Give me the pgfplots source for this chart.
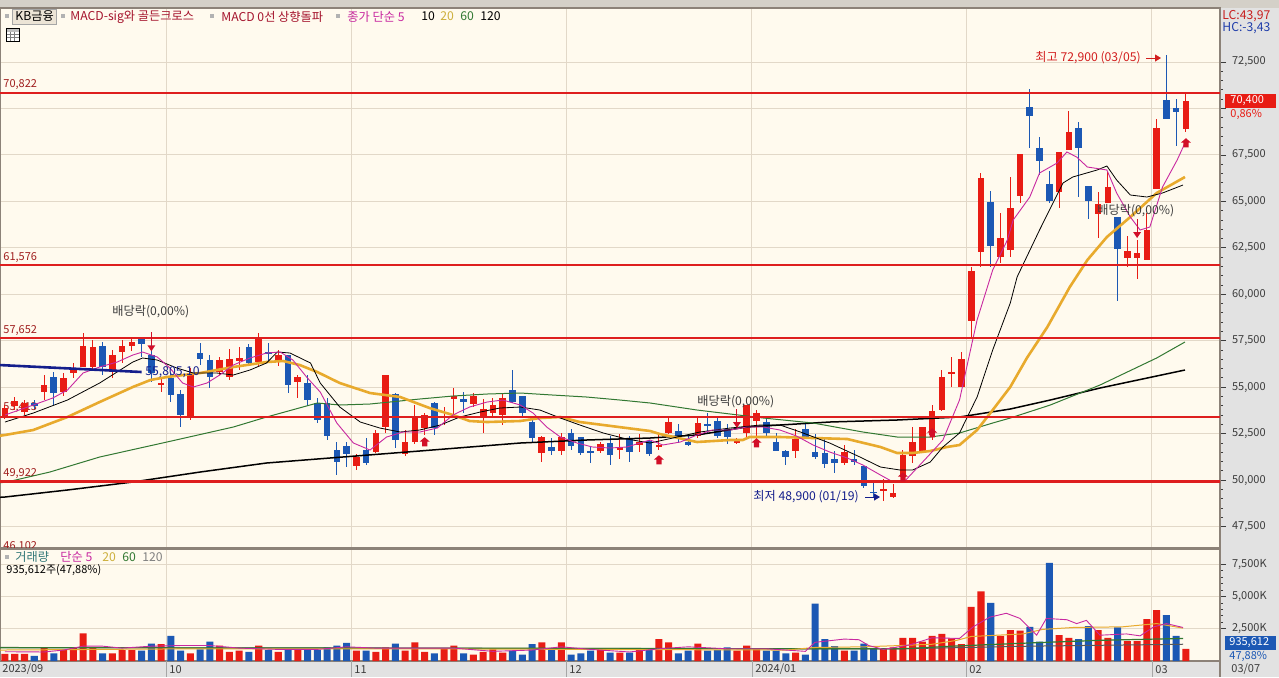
\documentclass[border=0pt]{standalone}
\usepackage{pgfplots}
\pgfplotsset{compat=1.18}
\usepackage{pgfplotstable}
\usepackage{fontspec}
\setmainfont{Noto Sans CJK KR}
\usetikzlibrary{arrows.meta}

\definecolor{bg}{RGB}{255,250,238}
\definecolor{gridc}{RGB}{226,216,200}
\definecolor{panel}{RGB}{226,226,226}
\definecolor{frame}{RGB}{140,130,120}
\definecolor{cred}{RGB}{232,28,20}
\definecolor{cblue}{RGB}{28,88,180}
\definecolor{hline}{RGB}{222,30,30}
\definecolor{lab}{RGB}{160,30,30}
\definecolor{ma5}{RGB}{200,40,160}
\definecolor{ma20}{RGB}{232,170,45}
\definecolor{ma60}{RGB}{50,120,50}
\definecolor{navy}{RGB}{20,30,140}
\definecolor{tick}{RGB}{60,60,60}
\definecolor{sigred}{RGB}{210,15,40}

\newcommand\fs{\fontsize{5.5pt}{6.5pt}\selectfont}
\newcommand\fb{\fontsize{6.1pt}{7pt}\selectfont}

% MACD signal arrow
\pgfdeclareplotmark{sigup}{%
 \pgfpathmoveto{\pgfqpoint{0pt}{2.4pt}}%
 \pgfpathlineto{\pgfqpoint{2.5pt}{0.2pt}}%
 \pgfpathlineto{\pgfqpoint{1.3pt}{0.2pt}}%
 \pgfpathlineto{\pgfqpoint{1.3pt}{-2.2pt}}%
 \pgfpathlineto{\pgfqpoint{-1.3pt}{-2.2pt}}%
 \pgfpathlineto{\pgfqpoint{-1.3pt}{0.2pt}}%
 \pgfpathlineto{\pgfqpoint{-2.5pt}{0.2pt}}%
 \pgfpathclose\pgfusepathqfill}
% ex-dividend arrow, tip at the point
\pgfdeclareplotmark{divdown}{%
 \pgfpathmoveto{\pgfqpoint{0pt}{3pt}}\pgfpathlineto{\pgfqpoint{0pt}{9.5pt}}\pgfusepathqstroke
 \pgfpathmoveto{\pgfqpoint{0pt}{0pt}}\pgfpathlineto{\pgfqpoint{2pt}{3pt}}%
 \pgfpathlineto{\pgfqpoint{-2pt}{3pt}}\pgfpathclose\pgfusepathqfill}

% day index, open, high, low, close, volume (M shares)
\pgfplotstableread{
i o h l c v
0 53400 54040 53280 53880 0.55
1 54000 54450 53750 54250 0.55
2 53660 54300 53500 54150 0.55
4 54740 55650 54300 55115 1.0
6 54740 55760 54500 55500 0.85
7 55760 56300 55500 56030 1.0
8 56085 57915 56085 57215 2.15
9 56085 57540 55980 57160 1.0
11 55815 57000 55500 56730 0.6
12 56890 57540 56300 57215 0.85
13 57215 57700 56950 57430 0.85
16 55115 55500 54740 55220 1.3
19 53390 56030 53230 55760 0.6
22 55815 56620 55650 56460 1.2
23 55550 57050 55380 56520 0.7
24 56410 57160 55920 56570 0.8
26 56350 57920 56140 57650 1.2
28 56460 57000 56140 56730 0.7
30 55280 55650 54420 55550 0.85
36 50760 51400 50540 51240 0.8
38 51510 52700 51460 52530 0.7
39 52860 55650 52530 55650 1.05
41 51400 52690 51300 52050 0.8
42 52050 54040 51940 53390 1.45
43 52800 53610 52430 53500 0.7
45 53390 53930 52970 53450 0.95
46 54360 54960 53500 54520 1.2
48 54090 54690 53930 54520 0.5
49 53390 54360 52540 53830 0.7
50 53610 54420 53450 54040 0.9
51 53500 54690 52970 54410 0.65
55 51460 52370 50970 52320 1.45
57 51560 52530 51350 52320 1.45
61 51560 52050 51460 51940 0.85
63 51620 52480 51140 51780 0.65
65 51890 52480 51510 52050 0.9
67 51780 52480 51620 51890 1.7
68 52530 53390 52480 53120 1.45
71 52370 53340 52260 53070 1.35
75 51990 52260 51940 52210 0.8
76 52530 54040 52320 54040 1.2
77 53180 53770 52320 53610 0.9
81 51560 52750 51180 52210 0.65
86 50920 51890 50810 51510 0.8
90 49410 50060 48900 49520 0.95
91 49080 49790 49030 49300 1.05
92 50160 51620 49840 51350 1.8
93 51300 52860 50920 52050 1.8
94 51560 52860 51460 52860 1.5
95 52430 54040 52160 53720 1.95
96 53770 55920 53720 55550 2.1
97 55760 56620 55010 55820 1.75
98 55010 56890 55010 56520 1.3
99 58560 61470 57650 61250 4.2
100 62270 66530 61470 66260 5.4
102 62000 64370 61680 63030 1.95
103 62380 66310 62000 64640 2.4
104 65290 67550 64910 67550 2.35
108 65500 67660 64640 67660 2.0
109 67760 69860 67760 68730 1.8
112 64320 65510 63030 64860 2.4
113 64910 66650 64910 65770 1.8
115 61950 63140 61470 62330 1.55
116 61950 62920 60820 62220 1.55
117 61840 64370 61840 63460 3.25
118 65660 69430 65660 68950 3.95
121 68900 70890 68730 70400 0.935
}\redtab

\pgfplotstableread{
i o h l c v
3 54150 54300 53800 53980 0.4
5 55550 55800 54040 54690 0.6
10 57215 57430 55650 56085 0.6
14 57600 57700 56620 57320 0.8
15 56730 57540 55280 55760 1.35
17 55500 55760 54200 54580 1.95
18 54630 54850 52860 53500 0.8
20 56840 57380 56190 56520 0.9
21 56460 56730 54960 55550 1.5
25 57160 57320 56140 56300 0.7
27 56870 57400 56410 56820 0.85
29 56730 56730 54690 55115 0.85
31 55220 55650 53990 54310 0.9
32 54150 54420 53070 53230 0.85
33 54150 54420 52150 52380 1.05
34 51620 52050 50270 50970 1.2
35 51830 52050 50700 51400 1.4
37 51620 52260 50810 50920 0.8
40 54630 54690 51720 52150 1.35
44 54150 54200 52430 52800 0.6
47 54360 54750 53610 54200 0.6
52 54850 55920 54150 54200 0.8
53 54520 54520 53450 53610 0.5
54 53120 53390 52050 52260 1.3
56 51780 52260 51350 51560 0.85
58 52530 52750 51620 51830 0.5
59 52320 52320 51350 51460 0.6
60 51560 51780 50920 51460 0.8
62 51990 52370 50810 51350 0.65
64 52210 52370 50970 51510 0.65
66 52100 52150 51300 51410 0.9
69 52640 53000 52000 52370 0.6
70 52050 52480 51830 51890 0.8
72 53010 53610 52530 52960 0.8
73 53180 53450 52260 52370 0.85
74 52750 53000 51940 52320 1.05
78 53120 53390 52320 52530 0.8
79 52050 52530 51560 51560 0.8
80 51560 51620 50810 51240 0.6
82 52750 53010 52210 52320 0.5
83 51510 52480 51140 51240 4.45
84 51460 52210 50650 50870 1.7
85 51130 51560 50380 50920 1.15
87 51130 51620 50810 50970 0.8
88 50760 50760 49570 49680 1.35
89 49360 49840 49100 49310 0.95
101 64970 65560 61470 62600 4.5
105 70080 71050 67870 69590 2.65
106 67870 68460 66420 67170 1.5
107 65930 66630 64910 65020 7.6
110 68950 69270 65240 67870 1.7
111 65830 65830 64050 65020 2.7
114 64160 64160 59640 62440 2.6
119 70450 72900 69430 69430 3.55
120 70000 70500 67980 69800 1.95
}\bluetab

\pgfplotsset{
  panelstyle/.style={
    scale only axis, width=610pt, anchor=north west,
    xmin=-0.51, xmax=124.49,
    axis background/.style={fill=bg},
    axis line style={draw=frame, line width=0.8pt},
    xtick={16.5,35.5,57.5,76.5,98.5,117.5}, xticklabels={},
    xtick style={draw=none},
    xmajorgrids, ymajorgrids, grid style={draw=gridc, line width=0.5pt},
    ytick pos=right, yticklabel pos=right, tick align=outside,
    major tick length=3pt, minor tick length=1.5pt,
    ytick style={draw=tick, line width=0.4pt},
    y tick label style={font=\fs, text=tick, anchor=west, xshift=-0.5pt},
    /pgf/number format/assume math mode=true,
    clip mode=individual},
  wick/.style={draw=none, mark=none, forget plot,
    error bars/.cd, y dir=both, y explicit, error mark=none,
    error bar style={line width=0.5pt, draw=#1}},
  body/.style={draw=none, mark=none, forget plot,
    error bars/.cd, y dir=both, y explicit, error mark=none,
    error bar style={line width=3.3pt, draw=#1}},
}

\begin{document}
\begin{tikzpicture}
\useasboundingbox (0,0) rectangle (639.5pt,-338.5pt);
\fill[panel] (0,0) rectangle (639.5pt,-338.5pt);
\fill[fill={rgb,255:red,212;green,208;blue,200}] (0,0) rectangle (639.5pt,-4pt);

% ---------------- price panel ----------------
\begin{axis}[panelstyle, at={(0pt,-4pt)}, height=270pt,
  ymin=46344, ymax=75406,
  ytick={47500,50000,52500,55000,57500,60000,62500,65000,67500,70000,72500},
  yticklabels={{47,500},{50,000},{52,500},{55,000},{57,500},{60,000},{62,500},{65,000},{67,500},{},{72,500}},
  minor y tick num=4]

\node[anchor=west, text=lab, font=\fs, inner sep=0pt] at (axis cs:-0.2,71262) {70,822};
\node[anchor=west, text=lab, font=\fs, inner sep=0pt] at (axis cs:-0.2,61951) {61,576};
\node[anchor=west, text=lab, font=\fs, inner sep=0pt] at (axis cs:-0.2,58022) {57,652};
\node[anchor=west, text=lab, font=\fs, inner sep=0pt] at (axis cs:-0.2,53878) {53,413};
\node[anchor=west, text=lab, font=\fs, inner sep=0pt] at (axis cs:-0.2,50327) {49,922};
\node[anchor=west, text=lab, font=\fs, inner sep=0pt] at (axis cs:-0.2,46400) {46,102};

% candles
\addplot[wick=cred] table[x=i, y expr={(\thisrow{h}+\thisrow{l})/2}, y error expr={(\thisrow{h}-\thisrow{l})/2}] {\redtab};
\addplot[body=cred] table[x=i, y expr={(\thisrow{o}+\thisrow{c})/2}, y error expr={max(abs(\thisrow{c}-\thisrow{o})/2,28)}] {\redtab};
\addplot[wick=cblue] table[x=i, y expr={(\thisrow{h}+\thisrow{l})/2}, y error expr={(\thisrow{h}-\thisrow{l})/2}] {\bluetab};
\addplot[body=cblue] table[x=i, y expr={(\thisrow{o}+\thisrow{c})/2}, y error expr={max(abs(\thisrow{c}-\thisrow{o})/2,28)}] {\bluetab};

% moving averages
\addplot[black, line width=0.75pt] coordinates {(-0.6,49070) (0,49089) (6.4,49466) (13.1,49896) (20,50434) (26.8,50919) (33.3,51188) (42.5,51565) (52.8,51995) (59.6,52157) (66.1,52264) (70.9,52426) (76,52856) (84.5,53125) (91.4,53233) (97.8,53394) (103,53825) (107.1,54309) (112.2,54955) (120.9,55924)};
\addplot[ma60, line width=0.5pt] coordinates {(-0.6,49850) (0.2,49896) (4.6,50434) (9.7,51241) (16.6,52049) (23.4,52856) (26.8,53394) (32,54148) (34.3,54040) (37.4,54094) (42.5,54363) (45.9,54524) (49.4,54632) (52.8,54686) (56.1,54578) (59.6,54470) (63,54309) (66.1,54148) (70.9,53771) (77.7,53340) (82.8,53071) (87.9,52587) (91.4,52318) (94.8,52318) (97.8,52533) (101.2,53071) (103,53340) (107.1,54040) (112.2,55117) (118,56570) (120.9,57431)};
\addplot[ma20, line width=1.3pt] coordinates {(-0.6,52380) (0,52426) (2.9,52695) (6.4,53394) (9.7,54201) (13.1,55009) (14.9,55386) (16.6,55547) (20,55762) (23.4,56085) (26.8,56354) (28.5,56408) (30.2,56193) (32,55816) (34.3,55224) (37.4,54686) (40.5,54470) (43.5,53878) (45.9,53502) (47.6,53179) (49.4,53125) (52.8,53179) (54.8,53340) (56.9,53394) (58.9,53125) (61.3,52964) (63.7,52802) (66.1,52641) (67.1,52479) (70.9,52049) (74.3,52157) (75.6,52157) (76.3,52318) (79.4,52318) (82.8,52264) (86.3,52210) (89.7,51780) (91.4,51457) (93,51457) (94.8,51565) (96.5,51780) (97.8,51887) (99.6,52695) (101.2,53771) (103,55009) (104.7,56570) (106.8,58238) (109.1,60391) (110.9,61844) (112.9,63082) (115.3,64158) (118,65450) (120.9,66311)};
\addplot[black, line width=0.4pt] coordinates {(0,53125) (2.9,53609) (6.4,54309) (9.7,55224) (13.1,56354) (14.1,56570) (15.6,56462) (17.6,56031) (19.3,55762) (21.7,55762) (23.4,55655) (25.1,55924) (26.8,56301) (27.9,56893) (29.2,56839) (31.3,56301) (32.3,55224) (34.3,53932) (36.4,53125) (38.4,52802) (40.5,52587) (42.5,52695) (44.6,52964) (46.6,53394) (48.7,53663) (50.7,53878) (52.8,53932) (54.8,53771) (56.9,53340) (58.9,52964) (61.3,52533) (63.7,52210) (66.1,51995) (71.2,52587) (74.3,52802) (77.4,52964) (79.4,52964) (81.5,52587) (84.5,51995) (87.6,51241) (89.7,50703) (91.7,50542) (93,50542) (94.8,50972) (96.1,51780) (97.8,52533) (99.6,54470) (101.2,57000) (103,59530) (103.7,60930) (106,63458) (108.4,65988) (109.4,66311) (111.9,66688) (112.9,66903) (113.9,66149) (115.3,65342) (117,65234) (118.6,65450) (120.7,65880)};
\addplot[ma5, line width=0.45pt] coordinates {(0,53502) (2.9,54040) (4.9,54417) (6.4,54847) (8,55762) (9.7,56085) (11.5,56354) (13.1,56731) (14.1,56893) (15.6,56624) (16.9,56031) (18.2,55224) (19.3,55009) (20.7,55224) (22,55655) (23.4,56193) (25.1,56570) (26.8,56839) (28.2,56893) (29.5,56462) (30.9,55547) (32.3,54739) (34,53071) (35.7,51995) (37.4,51618) (39.1,52318) (40.8,52587) (42.5,52587) (44.3,52802) (45.9,53502) (47.6,53932) (49.4,54201) (51,54309) (52.8,54040) (54.1,53609) (55.5,52856) (56.9,52318) (58.6,51995) (60.2,51780) (62,51726) (63.7,51780) (66.1,52157) (67.4,51888) (69.2,52049) (70.9,52426) (72.5,52695) (74.3,52695) (76,52856) (77.7,52856) (79.4,52695) (81.1,52372) (82.8,51888) (84.5,51511) (86.3,51188) (87.9,50811) (89.7,50273) (91,49896) (92.2,49950) (94.5,51241) (96.1,52157) (97.8,54309) (99.6,58615) (101.2,61306) (102.7,62920) (103.3,63997) (105,65234) (106,66526) (107.8,67064) (108.8,67657) (109.8,67388) (110.9,66849) (112.9,66688) (113.9,65450) (115.3,64158) (116.3,63458) (117.3,63620) (118.6,65773) (120.1,67226) (120.9,68140)};
\addplot[navy, line width=1.3pt] coordinates {(-0.6,56193) (14,55816)};

% support / resistance lines
\addplot[hline, line width=1.1pt] coordinates {(-1,70822) (126,70822)};
\addplot[hline, line width=1.1pt] coordinates {(-1,61576) (126,61576)};
\addplot[hline, line width=1.1pt] coordinates {(-1,57652) (126,57652)};
\addplot[hline, line width=1.1pt] coordinates {(-1,53413) (126,53413)};
\addplot[hline, line width=1.1pt] coordinates {(-1,49922) (126,49922)};

% signals
\addplot[only marks, mark=sigup, mark options={fill=sigred, draw=none}] coordinates {(43,52049) (67,51080) (77,51995) (92,50165) (95,52533) (121,68141)};
\addplot[only marks, mark=divdown, mark options={fill=sigred, draw=sigred, line width=0.5pt}] coordinates {(15,56931) (75,52803) (116,63028)};
\end{axis}

% ---------------- volume panel ----------------
\begin{axis}[panelstyle, at={(0pt,-274.5pt)}, height=56pt,
  ymin=0, ymax=8.68,
  ytick={2.5,5,7.5}, yticklabels={{2,500K},{5,000K},{7,500K}},
  minor y tick num=4]
\addplot[ybar, bar width=0.72, bar shift=0pt, fill=cred, draw=none] table[x=i, y=v] {\redtab};
\addplot[ybar, bar width=0.72, bar shift=0pt, fill=cblue, draw=none] table[x=i, y=v] {\bluetab};
\addplot[gray!70!black, line width=0.5pt] coordinates {(-0.6,1.05) (40,1.0) (82,0.95) (92,0.95) (105,1.15) (120.7,1.3)};
\addplot[ma60, line width=0.6pt] coordinates {(-0.6,1.03) (40,1.0) (82,0.95) (92,0.95) (97,1.15) (105,1.4) (112,1.6) (120.7,1.75)};
\addplot[ma20, line width=0.5pt] coordinates {(-0.6,0.85) (20,0.95) (40,0.95) (60,0.9) (80,0.85) (83,1.05) (88,1.1) (91.7,1.2) (95,1.3) (97.5,1.6) (99,1.9) (104.3,2.1) (106.3,2.45) (109.5,2.6) (114.5,2.65) (118,2.9) (120.7,2.55)};
\addplot[ma5, line width=0.45pt] coordinates {(0,0.72) (4,0.7) (6,0.85) (8,1.15) (10,1.15) (12,1.0) (15,1.15) (18,1.2) (21,1.2) (24,1.0) (28,0.9) (32,0.9) (35,1.1) (38,1.0) (42,1.0) (46,1.0) (50,0.75) (54,0.85) (57,1.1) (60,0.9) (64,0.7) (67,0.95) (70,1.1) (74,0.95) (78,0.95) (82,0.75) (83,1.45) (86,1.7) (87.5,1.65) (88.5,1.2) (90,0.9) (92.7,1.25) (95,1.8) (97.8,1.75) (99.2,2.65) (100.9,3.4) (102.6,3.7) (104,3.3) (105.7,2.0) (106.7,3.3) (108.8,3.2) (109.8,2.9) (110.8,3.15) (112.2,2.0) (114.9,2.1) (116.3,1.95) (117.7,2.65) (119,2.9) (120.7,2.6)};
\end{axis}

% ---------------- labels in pixel units ----------------
\begin{scope}[x=0.5pt, y=-0.5pt, every node/.style={font=\fs, inner sep=0pt}]
  % top legend
  \fill[gray!60] (5,14) rectangle (9,18);
  \filldraw[fill={rgb,255:red,236;green,228;blue,214}, draw=gray!70] (12,9) rectangle (56,24);
  \node[anchor=west, font=\fb] at (15,16.5) {KB금융};
  \fill[gray!60] (61,14) rectangle (65,18);
  \node[anchor=west, font=\fb, text={rgb,255:red,165;green,20;blue,45}] at (70,16.5) {MACD-sig와 골든크로스};
  \fill[gray!60] (210,14) rectangle (214,18);
  \node[anchor=west, font=\fb, text={rgb,255:red,165;green,20;blue,45}] at (221,16.5) {MACD 0선 상향돌파};
  \fill[gray!60] (336,14) rectangle (340,18);
  \node[anchor=west, font=\fb, text=ma5] at (347,16.5) {종가 단순 5};
  \node[anchor=west, font=\fb] at (421,16.5) {10};
  \node[anchor=west, font=\fb, text={rgb,255:red,205;green,175;blue,60}] at (440,16.5) {20};
  \node[anchor=west, font=\fb, text=ma60] at (460,16.5) {60};
  \node[anchor=west, font=\fb] at (480,16.5) {120};
  % table icon
  \filldraw[fill=white, draw=black, line width=0.5pt] (6,28) rectangle (19,41);
  \fill[gray!50] (6.5,28.5) rectangle (18.5,31.5);
  \draw[gray, line width=0.3pt] (10.3,31.5) -- (10.3,40.5) (14.6,31.5) -- (14.6,40.5) (6.5,34.5) -- (18.5,34.5) (6.5,37.5) -- (18.5,37.5);
  % right top
  \node[anchor=west, font=\fb, text={rgb,255:red,200;green,30;blue,30}] at (1222,16) {LC:43,97};
  \node[anchor=west, font=\fb, text={rgb,255:red,30;green,60;blue,170}] at (1222,28) {HC:-3,43};
  % current price box
  \fill[cred] (1225,94) rectangle (1276,108);
  \node[anchor=west, text=white] at (1230,101) {70,400};
  \node[anchor=west, text=cred] at (1230,114) {0,86\%};
  % volume box
  \fill[cblue] (1225,636) rectangle (1276,650);
  \node[anchor=west, text=white] at (1229,643) {935,612};
  \node[anchor=west, text=cblue] at (1229,656) {47,88\%};
  % annotations
  \node[anchor=west, font=\fb, text=tick] at (112,312) {배당락(0,00\%)};
  \node[anchor=west, font=\fb, text=tick] at (697,402) {배당락(0,00\%)};
  \node[anchor=west, font=\fb, text=tick] at (1097,211) {배당락(0,00\%)};
  \node[anchor=west, font=\fb, text=navy] at (145,372) {55,805,10};
  \node[anchor=west, font=\fb, text={rgb,255:red,210;green,30;blue,30}] at (1035,58) {최고 72,900 (03/05)};
  \draw[-{Triangle[length=3pt,width=3.5pt]}, draw={rgb,255:red,210;green,30;blue,30}, fill={rgb,255:red,210;green,30;blue,30}, line width=0.5pt] (1146,58) -- (1161,58);
  \node[anchor=west, font=\fb, text=navy] at (753,497) {최저 48,900 (01/19)};
  \draw[-{Triangle[length=3pt,width=3.5pt]}, draw=navy, fill=navy, line width=0.5pt] (865,497) -- (880,497);
  % volume legend
  \fill[gray!60] (5,555) rectangle (9,559);
  \node[anchor=west, font=\fb, text={rgb,255:red,50;green,120;blue,120}] at (15,557) {거래량};
  \node[anchor=west, font=\fb, text=ma5] at (60,557) {단순 5};
  \node[anchor=west, font=\fb, text={rgb,255:red,205;green,175;blue,60}] at (102,557) {20};
  \node[anchor=west, font=\fb, text=ma60] at (122,557) {60};
  \node[anchor=west, font=\fb, text=gray] at (142,557) {120};
  \node[anchor=west] at (6,570) {935,612주(47,88\%)};
  % date strip
  \foreach \xx in {166,351,566,752,966,1152} {\draw[gray!70, line width=0.5pt] (\xx,661) -- (\xx,677);}
  \draw[frame, line width=0.8pt] (1220,661) -- (1220,677);
  \node[anchor=west, text=tick] at (2,669.5) {2023/09};
  \node[anchor=west, text=tick] at (169,669.5) {10};
  \node[anchor=west, text=tick] at (354,669.5) {11};
  \node[anchor=west, text=tick] at (569,669.5) {12};
  \node[anchor=west, text=tick] at (755,669.5) {2024/01};
  \node[anchor=west, text=tick] at (969,669.5) {02};
  \node[anchor=west, text=tick] at (1155,669.5) {03};
  \node[anchor=west, text=tick] at (1231,669.5) {03/07};
\end{scope}
\end{tikzpicture}
\end{document}
